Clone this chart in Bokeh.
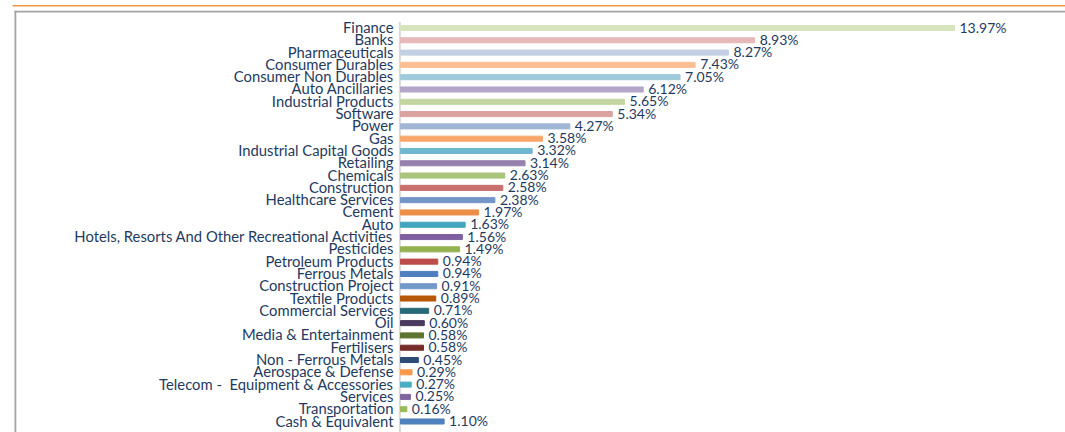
from bokeh.plotting import figure
from bokeh.models import ColumnDataSource, Range1d
from bokeh.core.properties import value
from bokeh.embed import file_html
from bokeh.resources import INLINE

categories = [
    "Finance", "Banks", "Pharmaceuticals", "Consumer Durables", "Consumer Non Durables",
    "Auto Ancillaries", "Industrial Products", "Software", "Power", "Gas",
    "Industrial Capital Goods", "Retailing", "Chemicals", "Construction",
    "Healthcare Services", "Cement", "Auto",
    "Hotels, Resorts And Other Recreational Activities", "Pesticides",
    "Petroleum Products", "Ferrous Metals", "Construction Project", "Textile Products",
    "Commercial Services", "Oil", "Media & Entertainment", "Fertilisers",
    "Non - Ferrous Metals", "Aerospace & Defense",
    "Telecom - \u00a0Equipment & Accessories", "Services", "Transportation",
    "Cash & Equivalent",
]
values = [13.97, 8.93, 8.27, 7.43, 7.05, 6.12, 5.65, 5.34, 4.27, 3.58, 3.32, 3.14,
          2.63, 2.58, 2.38, 1.97, 1.63, 1.56, 1.49, 0.94, 0.94, 0.91, 0.89, 0.71,
          0.60, 0.58, 0.58, 0.45, 0.29, 0.27, 0.25, 0.16, 1.10]
bar_colors = [
    "#D7E4BD", "#E6B9B8", "#C3CFE3", "#FBBF93", "#9FCADA", "#B4A6C8", "#C3D6A0",
    "#D9A2A1", "#A1B5D5", "#F9A66A", "#70B7CF", "#9580AE", "#A9C47B", "#C96F6D",
    "#7495C8", "#EC8E46", "#44A5BF", "#7E5F9F", "#93B351", "#BD4D4A", "#4F7FBE",
    "#7399C8", "#B65808", "#276A78", "#4A3A5E", "#5E7431", "#772C2A", "#2B4C75",
    "#F9984A", "#4BACC6", "#8064A2", "#9BBB59", "#4F81BD",
]
labels = ["%.2f%%" % v for v in values]

TEXT_COLOR = "#1F3A60"
FONT = "Lato"

# ---- layout (pixel geometry of the page) ----
W, H = 1065, 432
ZERO_PX = 400.0          # pixel x of value 0
PX_PER_UNIT = 39.656     # pixels per percentage point
FIRST_ROW_PX = 27.5      # pixel y of first category centre
ROW_PX = 12.297          # pixels between rows

def px_x(px):
    return (px - ZERO_PX) / PX_PER_UNIT

def px_y(py):
    return (py - FIRST_ROW_PX) / ROW_PX

rows = list(range(len(categories)))
source = ColumnDataSource(dict(row=rows, cat=categories, val=values,
                               col=bar_colors, lab=labels,
                               zero=[0] * len(categories)))

p = figure(
    width=W, height=H,
    x_range=Range1d(px_x(0), px_x(W)),
    y_range=Range1d(px_y(H), px_y(0)),
    x_axis_location=None, y_axis_location=None,
    output_backend="svg", toolbar_location=None,
    min_border=0,
)
p.outline_line_color = None
p.xgrid.visible = False
p.ygrid.visible = False
p.background_fill_color = "white"
p.border_fill_color = "white"

# decorative orange rule, grey frame edges and the category axis line
deco = ColumnDataSource(dict(
    left=[px_x(12), px_x(14), px_x(14), px_x(398.4)],
    right=[px_x(W + 20), px_x(W + 20), px_x(15.8), px_x(400.4)],
    top=[px_y(4.6), px_y(10.2), px_y(10.2), px_y(21.5)],
    bottom=[px_y(6.0), px_y(12.0), px_y(H + 20), px_y(H + 20)],
    color=["#F79646", "#A3A3A3", "#A3A3A3", "#D9D9D9"],
))
p.quad(left="left", right="right", top="top", bottom="bottom",
       fill_color="color", line_color=None, source=deco)

p.hbar(y="row", left="zero", right="val", height=0.41, color="col", source=source)

p.text(x="val", y="row", text="lab", source=source, x_offset=5, y_offset=-1,
       text_baseline="middle", text_align="left",
       text_font=value(FONT), text_font_size="14px", text_color=TEXT_COLOR)

p.text(x="zero", y="row", text="cat", source=source, x_offset=-7, y_offset=-1,
       text_baseline="middle", text_align="right",
       text_font=value(FONT), text_font_size="14.8px", text_color=TEXT_COLOR)

open("out.html", "w").write(file_html(p, INLINE))
